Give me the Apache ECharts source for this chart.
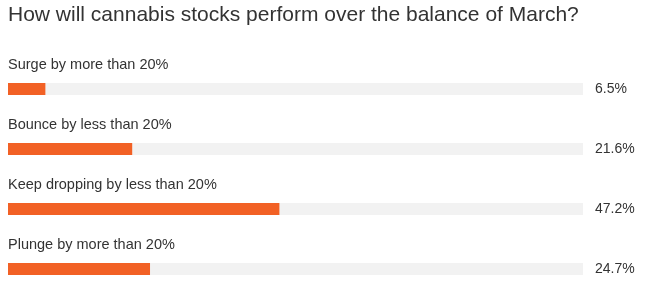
<!DOCTYPE html>
<html><head><meta charset="utf-8">
<script src="https://cdn.jsdelivr.net/npm/echarts@6/dist/echarts.min.js"></script>
<style>html,body{margin:0;padding:0;background:#fff}#c{width:653px;height:291px}</style>
</head><body><div id="c"></div>
<script>
var titleText = 'How will cannabis stocks perform over the balance of March?';
var categories = ['Surge by more than 20%', 'Bounce by less than 20%', 'Keep dropping by less than 20%', 'Plunge by more than 20%'];
var values = [6.5, 21.6, 47.2, 24.7];
var fullScale = [100, 100, 100, 100];

var chart = echarts.init(document.getElementById('c'), null, {renderer: 'canvas'});
var font = '"Liberation Sans", Arial, sans-serif';
chart.setOption({
  animation: false,
  backgroundColor: '#ffffff',
  title: {
    text: titleText, left: 8, top: 5, padding: 0,
    textStyle: {fontFamily: font, fontSize: 21, fontWeight: 'normal', color: '#333333'}
  },
  grid: {left: 8, right: 70, top: 89, height: 180, containLabel: false},
  xAxis: {type: 'value', min: 0, max: 100, show: false},
  yAxis: {type: 'category', data: categories, inverse: true, boundaryGap: false, show: false},
  series: [
    {
      type: 'bar', data: fullScale, barWidth: 12, silent: true, z: 1,
      itemStyle: {color: '#f2f2f2'},
      label: {
        show: true, position: 'right', distance: 12,
        fontFamily: font, fontSize: 14, color: '#333333',
        formatter: function (p) { return values[p.dataIndex].toFixed(1) + '%'; }
      }
    },
    {
      type: 'bar', data: values, barWidth: 12, barGap: '-100%', z: 2,
      itemStyle: {color: '#f26125'},
      label: {
        show: true, position: [0, -18], align: 'left', verticalAlign: 'middle',
        fontFamily: font, fontSize: 14.5, color: '#333333',
        formatter: function (p) { return categories[p.dataIndex]; }
      }
    }
  ]
});
</script></body></html>
